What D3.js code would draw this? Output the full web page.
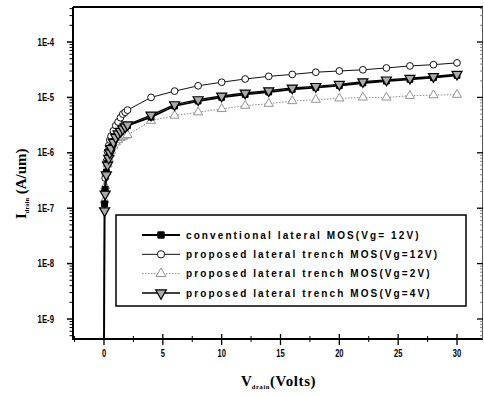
<!DOCTYPE html>
<html>
<head>
<meta charset="utf-8">
<script src="https://cdn.jsdelivr.net/npm/d3@7"></script>
<style>
  html, body { margin: 0; padding: 0; background: #fff; }
  svg { display: block; }
</style>
</head>
<body>
<div id="chart"></div>
<script>
// drain voltage sweep (V)
const vdrain = [0, 0.05, 0.1, 0.2, 0.3, 0.4, 0.5, 0.6, 0.8, 1.0, 1.2, 1.4, 1.6, 1.8, 2,
  4, 6, 8, 10, 12, 14, 16, 18, 20, 22, 24, 26, 28, 30];

// drain current (A/um)
const convVg12 = [1e-10, 1.2e-7, 2.2e-7, 4.5e-7, 6.5e-7, 8.5e-7, 1.05e-6, 1.25e-6, 1.6e-6, 1.95e-6, 2.2e-6, 2.45e-6, 2.7e-6, 2.9e-6, 3.1e-6,
  4.4e-6, 7.0e-6, 8.6e-6, 1.0e-5, 1.13e-5, 1.25e-5, 1.4e-5, 1.5e-5, 1.63e-5, 1.82e-5, 1.97e-5, 2.12e-5, 2.27e-5, 2.5e-5];
const trenchVg12 = [1e-10, 2.0e-7, 3.5e-7, 7e-7, 1.05e-6, 1.35e-6, 1.7e-6, 2.0e-6, 2.5e-6, 3.1e-6, 3.6e-6, 4.3e-6, 5.0e-6, 5.4e-6, 5.9e-6,
  1.0e-5, 1.3e-5, 1.62e-5, 1.88e-5, 2.15e-5, 2.4e-5, 2.6e-5, 2.85e-5, 3.0e-5, 3.15e-5, 3.4e-5, 3.7e-5, 3.9e-5, 4.2e-5];
const trenchVg2 = [1e-10, 1.4e-7, 2.5e-7, 4.5e-7, 6.2e-7, 7.8e-7, 9.5e-7, 1.1e-6, 1.35e-6, 1.55e-6, 1.7e-6, 1.85e-6, 1.95e-6, 2.05e-6, 2.1e-6,
  3.8e-6, 4.7e-6, 5.4e-6, 6.2e-6, 7.1e-6, 7.7e-6, 8.6e-6, 9.1e-6, 9.6e-6, 1.0e-5, 1.0e-5, 1.07e-5, 1.1e-5, 1.12e-5];
const trenchVg4 = [1e-10, 9e-8, 1.8e-7, 4e-7, 6e-7, 8e-7, 1.0e-6, 1.2e-6, 1.55e-6, 1.9e-6, 2.2e-6, 2.45e-6, 2.7e-6, 2.95e-6, 3.2e-6,
  4.8e-6, 7.4e-6, 9.1e-6, 1.06e-5, 1.2e-5, 1.32e-5, 1.48e-5, 1.58e-5, 1.72e-5, 1.92e-5, 2.07e-5, 2.22e-5, 2.38e-5, 2.62e-5];

const seriesLabels = [
  'conventional lateral MOS(Vg= 12V)',
  'proposed lateral trench MOS(Vg=12V)',
  'proposed lateral trench MOS(Vg=2V)',
  'proposed lateral trench MOS(Vg=4V)'
];
const xTicks = [0, 5, 10, 15, 20, 25, 30];
const yTicks = [1e-9, 1e-8, 1e-7, 1e-6, 1e-5, 1e-4];
const yTickLabels = ['1E-9', '1E-8', '1E-7', '1E-6', '1E-5', '1E-4'];

const width = 484, height = 396;
const plot = { left: 73, right: 483, top: 7, bottom: 339 };

const svg = d3.select('#chart').append('svg')
  .attr('width', width).attr('height', height)
  .style('font-family', '"Liberation Sans", Arial, sans-serif');

const x = d3.scaleLinear().domain([-2.634, 32.21]).range([plot.left, plot.right]);
const y = d3.scaleLog().domain([Math.pow(10, -9.361), Math.pow(10, -3.368)]).range([plot.bottom, plot.top]);

svg.append('defs').append('clipPath').attr('id', 'clip')
  .append('rect')
  .attr('x', plot.left).attr('y', plot.top)
  .attr('width', plot.right - plot.left).attr('height', plot.bottom - plot.top);

// series styling
const styles = [
  { values: convVg12, symbol: d3.symbolSquare, size: 34, rot: 0, stroke: '#000', fill: '#000', lw: 1.8, dash: null, mstroke: 1 },
  { values: trenchVg12, symbol: d3.symbolCircle, size: 36, rot: 0, stroke: '#111', fill: '#fff', lw: 1, dash: null, mstroke: 1 },
  { values: trenchVg2, symbol: d3.symbolTriangle, size: 36, rot: 0, stroke: '#888', fill: '#fff', lw: 1, dash: '1.5,1.5', mstroke: 0.9 },
  { values: trenchVg4, symbol: d3.symbolTriangle, size: 44, rot: 180, stroke: '#000', fill: '#aaa', lw: 1.4, dash: null, mstroke: 1.2 }
];

const line = d3.line()
  .x(d => x(d.v))
  .y(d => y(d.i));

const dataG = svg.append('g').attr('clip-path', 'url(#clip)');
const drawOrder = [2, 1, 0, 3];
drawOrder.forEach(k => {
  const s = styles[k];
  const pts = vdrain.map((v, i) => ({ v: v, i: s.values[i] }));
  const g = dataG.append('g');
  g.append('path')
    .attr('d', line(pts))
    .attr('fill', 'none')
    .attr('stroke', s.stroke)
    .attr('stroke-width', s.lw)
    .attr('stroke-dasharray', s.dash);
  g.selectAll('path.pt').data(pts).enter()
    .append('path')
    .attr('class', 'pt')
    .attr('d', d3.symbol().type(s.symbol).size(s.size))
    .attr('transform', d => 'translate(' + x(d.v) + ',' + y(d.i) + ') rotate(' + s.rot + ')')
    .attr('fill', s.fill)
    .attr('stroke', s.stroke)
    .attr('stroke-width', s.mstroke);
});

// frame
svg.append('line').attr('x1', plot.left).attr('x2', plot.left).attr('y1', plot.top).attr('y2', plot.bottom)
  .attr('stroke', '#000').attr('stroke-width', 2);
svg.append('line').attr('x1', plot.left - 1).attr('x2', plot.right).attr('y1', plot.bottom).attr('y2', plot.bottom)
  .attr('stroke', '#000').attr('stroke-width', 2);
svg.append('line').attr('x1', plot.left).attr('x2', plot.right).attr('y1', plot.top).attr('y2', plot.top)
  .attr('stroke', '#000').attr('stroke-width', 1.8);
svg.append('line').attr('x1', plot.right - 0.5).attr('x2', plot.right - 0.5).attr('y1', plot.top).attr('y2', plot.bottom)
  .attr('stroke', '#555').attr('stroke-width', 1);

// bottom axis: crossing ticks
const xMinor = d3.range(-2.5, 32.5, 2.5).filter(v => !xTicks.includes(v));
const axisG = svg.append('g').attr('stroke', '#000');
xTicks.forEach(v => {
  axisG.append('line').attr('x1', x(v)).attr('x2', x(v)).attr('y1', plot.bottom - 5).attr('y2', plot.bottom + 6).attr('stroke-width', 1.3);
});
xMinor.forEach(v => {
  axisG.append('line').attr('x1', x(v)).attr('x2', x(v)).attr('y1', plot.bottom - 3).attr('y2', plot.bottom + 3).attr('stroke-width', 1);
});

// left / right axis log ticks
const yMinor = [];
for (let e = -10; e <= -3; e++) {
  for (let m = 2; m <= 9; m++) {
    const v = m * Math.pow(10, e);
    if (y(v) >= plot.top && y(v) <= plot.bottom) yMinor.push(v);
  }
}
yTicks.forEach(v => {
  axisG.append('line').attr('x1', plot.left - 6).attr('x2', plot.left).attr('y1', y(v)).attr('y2', y(v)).attr('stroke-width', 1.5);
  axisG.append('line').attr('x1', plot.right - 6).attr('x2', plot.right).attr('y1', y(v)).attr('y2', y(v)).attr('stroke-width', 1.3);
});
yMinor.forEach(v => {
  axisG.append('line').attr('x1', plot.left - 3.5).attr('x2', plot.left).attr('y1', y(v)).attr('y2', y(v)).attr('stroke-width', 1);
  axisG.append('line').attr('x1', plot.right - 3).attr('x2', plot.right).attr('y1', y(v)).attr('y2', y(v)).attr('stroke-width', 0.8).attr('stroke', '#666');
});

// tick labels (narrow)
svg.append('g').selectAll('text').data(yTicks).enter()
  .append('text')
  .attr('x', 54)
  .attr('y', d => y(d) + 3.5)
  .attr('text-anchor', 'end')
  .attr('font-size', 10)
  .attr('font-weight', 'bold')
  .attr('textLength', (d, i) => yTickLabels[i].length * 4.1)
  .attr('lengthAdjust', 'spacingAndGlyphs')
  .text((d, i) => yTickLabels[i]);

svg.append('g').selectAll('text').data(xTicks).enter()
  .append('text')
  .attr('x', d => x(d))
  .attr('y', 357)
  .attr('text-anchor', 'middle')
  .attr('font-size', 10)
  .attr('font-weight', 'bold')
  .attr('textLength', d => String(d).length * 4.2)
  .attr('lengthAdjust', 'spacingAndGlyphs')
  .text(d => d);

// axis titles
const xt = svg.append('text')
  .attr('x', 241).attr('y', 386)
  .attr('font-family', '"Liberation Serif", "Times New Roman", serif')
  .attr('font-weight', 'bold')
  .attr('font-size', 15);
xt.append('tspan').text('V');
xt.append('tspan').attr('font-size', 6.5).attr('dy', 3).attr('letter-spacing', 0.6).text('drain');
xt.append('tspan').attr('dy', -3).attr('letter-spacing', 0.6).text('(Volts)');

const yt = svg.append('text')
  .attr('transform', 'translate(26,219) rotate(-90)')
  .attr('font-family', '"Liberation Serif", "Times New Roman", serif')
  .attr('font-weight', 'bold')
  .attr('font-size', 15);
yt.append('tspan').text('I');
yt.append('tspan').attr('font-size', 6.5).attr('dy', 3).text('drain');
yt.append('tspan').attr('dy', -3).text(' (A/um)');

// legend
const leg = svg.append('g');
leg.append('rect')
  .attr('x', 116).attr('y', 215).attr('width', 350).attr('height', 91)
  .attr('fill', '#fff').attr('stroke', '#000').attr('stroke-width', 1.5);
const rowY = d3.scalePoint().domain(d3.range(seriesLabels.length)).range([235, 293]);
seriesLabels.forEach((lab, k) => {
  const s = styles[k];
  const ry = rowY(k);
  leg.append('line')
    .attr('x1', 142).attr('x2', 180).attr('y1', ry).attr('y2', ry)
    .attr('stroke', s.stroke).attr('stroke-width', s.lw).attr('stroke-dasharray', s.dash);
  leg.append('path')
    .attr('d', d3.symbol().type(s.symbol).size(s.size + 6))
    .attr('transform', 'translate(161,' + ry + ') rotate(' + s.rot + ')')
    .attr('fill', s.fill).attr('stroke', s.stroke).attr('stroke-width', s.mstroke);
  leg.append('text')
    .attr('x', 186).attr('y', ry + 3.8)
    .attr('font-size', 10)
    .attr('font-weight', 'bold')
    .attr('letter-spacing', 2.1)
    .text(lab);
});
</script>
</body>
</html>
